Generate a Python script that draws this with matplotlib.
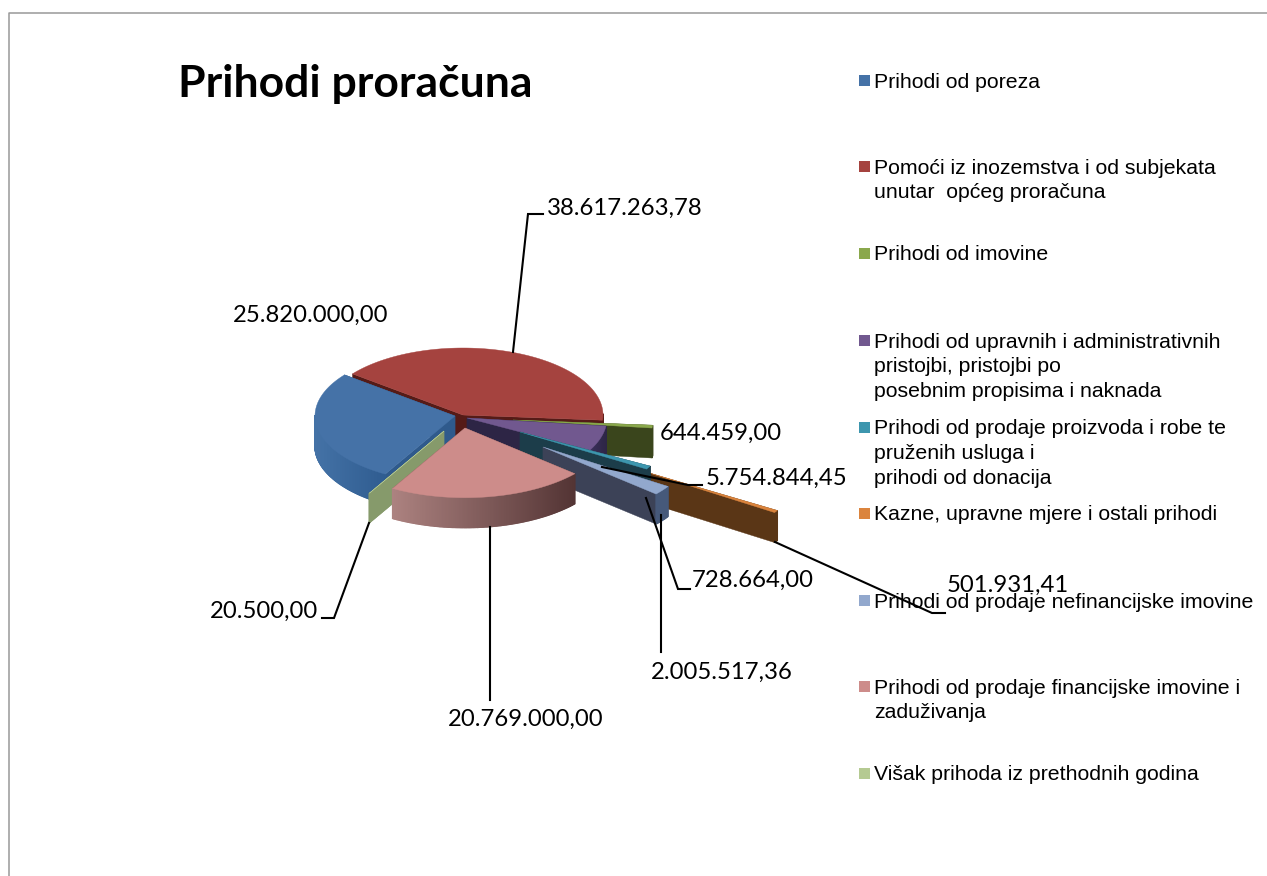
import matplotlib
matplotlib.use("Agg")
import matplotlib.pyplot as plt
import numpy as np
from matplotlib.colors import to_rgb
from matplotlib.patches import Polygon, Rectangle

# podaci
vrijednosti = [25820000.00, 38617263.78, 644459.00, 5754844.45, 728664.00,
               501931.41, 2005517.36, 20769000.00, 20500.00]
legenda = ["Prihodi od poreza",
           "Pomoći iz inozemstva i od subjekata\nunutar  općeg proračuna",
           "Prihodi od imovine",
           "Prihodi od upravnih i administrativnih\npristojbi, pristojbi po\nposebnim propisima i naknada",
           "Prihodi od prodaje proizvoda i robe te\npruženih usluga i\nprihodi od donacija",
           "Kazne, upravne mjere i ostali prihodi",
           "Prihodi od prodaje nefinancijske imovine",
           "Prihodi od prodaje financijske imovine i\nzaduživanja",
           "Višak prihoda iz prethodnih godina"]
naslov = "Prihodi proračuna"

# izgled
boje = ["#4572A7", "#A5433F", "#8AA84C", "#71588F", "#3D96AE",
        "#DB843D", "#92A8CD", "#CD8C8A", "#B5CA92"]
boje_zid = ["#2F5A8C", "#551B17", "#3A451C", "#2D2545", "#1C3D4A",
            "#5A3616", "#3C4257", "#6E4A48", "#869A6B"]
vanjski_l = ["#4472A6", "#551B17", "#3A451C", "#3A2F5A", "#1C3D4A",
             "#5A3616", "#46597A", "#AC8280", "#869A6B"]
vanjski_d = ["#2F5C90", "#551B17", "#3A451C", "#2D2545", "#1C3D4A",
             "#5A3616", "#46597A", "#533434", "#869A6B"]
centri = [(455, 416), (463, 415), (513, 420), (467, 418), (520, 432),
          (646, 472), (543, 447), (465, 428), (444, 431)]
skale = [1.0, 1.0, 1.0, 1.0, 1.06, 1.1, 1.07, 1.04, 1.07]
redoslijed = [1, 0, 2, 3, 5, 4, 6, 8, 7]
A, B, DUB = 140, 67, 30
POCETAK = 240.1

pozicije_teksta = [(233, 315), (547, 208), (660, 433), (706, 478), (692, 580),
                   (947, 585), (651, 672), (448, 719), (210, 611)]
linije = [None,
          [(513, 352), (528, 214), (543, 214)],
          None,
          [(602, 467), (688, 485), (702, 485)],
          [(646, 498), (678, 589), (690, 589)],
          [(775, 542), (932, 613), (945, 613)],
          [(661, 515), (661, 652)],
          [(490, 527), (490, 700)],
          [(369, 523), (334, 618), (322, 618)]]
legenda_y = [81, 167, 254, 341, 428, 514, 601, 687, 774]


def format_hr(v):
    return f"{v:,.2f}".replace(",", "#").replace(".", ",").replace("#", ".")


def tocka(cx, cy, kut, sk):
    r = np.radians(kut)
    return cx + A * sk * np.cos(r), cy - B * sk * np.sin(r)


def crtaj_krisku(ax, i, gornji, donji):
    cx, cy = centri[i]
    sk = skale[i]
    kutovi = np.linspace(gornji, donji, max(int(abs(gornji - donji)) * 2, 2))
    luk = [tocka(cx, cy, k, sk) for k in kutovi]

    # radijalni zidovi
    for p in (luk[0], luk[-1]):
        zid = [(cx, cy), p, (p[0], p[1] + DUB), (cx, cy + DUB)]
        ax.add_patch(Polygon(zid, fc=boje_zid[i], ec=boje_zid[i], lw=0.3))

    # vanjski zid samo na prednjoj strani, s prijelazom boje
    prednji = [k for k in kutovi if np.sin(np.radians(k)) <= 0.02]
    if len(prednji) > 1:
        xs = [tocka(cx, cy, k, sk)[0] for k in prednji]
        x0, x1 = min(xs), max(xs)
        c0, c1 = np.array(to_rgb(vanjski_l[i])), np.array(to_rgb(vanjski_d[i]))
        for k0, k1 in zip(prednji[:-1], prednji[1:]):
            a = tocka(cx, cy, k0, sk)
            b = tocka(cx, cy, k1, sk)
            f = ((a[0] + b[0]) / 2 - x0) / max(x1 - x0, 1)
            c = c0 + (c1 - c0) * f
            ax.add_patch(Polygon([a, b, (b[0], b[1] + DUB), (a[0], a[1] + DUB)],
                                 fc=c, ec=c, lw=1.0))

    # gornja ploha
    ax.add_patch(Polygon([(cx, cy)] + luk, fc=boje[i], ec=boje[i], lw=0.3))


fig = plt.figure(figsize=(12.67, 8.76), dpi=100)
ax = fig.add_axes([0, 0, 1, 1])
ax.set_xlim(0, 1267)
ax.set_ylim(876, 0)
ax.axis("off")

# okvir
ax.plot([9, 9, 1267], [876, 13, 13], color="#999999", lw=1.1)

ukupno = sum(vrijednosti)
rasponi = []
kut = POCETAK
for v in vrijednosti:
    raspon = v / ukupno * 360
    rasponi.append((kut, kut - raspon))
    kut -= raspon

for i in redoslijed:
    crtaj_krisku(ax, i, rasponi[i][0], rasponi[i][1])

for i, v in enumerate(vrijednosti):
    if linije[i] is not None:
        xs, ys = zip(*linije[i])
        ax.plot(xs, ys, color="black", lw=1.5, solid_joinstyle="miter")
    x, y = pozicije_teksta[i]
    ax.text(x, y, format_hr(v), family="Lato", fontsize=17.2, color="black",
            ha="left", va="center")

ax.text(178, 84, naslov, family="Lato", fontsize=32, fontweight="bold",
        color="black", ha="left", va="center")

for i, tekst in enumerate(legenda):
    y = legenda_y[i]
    ax.add_patch(Rectangle((859, y - 6), 11, 11, fc=boje[i], ec="none"))
    for j, red in enumerate(tekst.split("\n")):
        ax.text(874, y + 1 + j * 24.7, red, family="Liberation Sans", fontsize=15.3,
                color="black", ha="left", va="center")

fig.savefig("out.png", dpi=100)
